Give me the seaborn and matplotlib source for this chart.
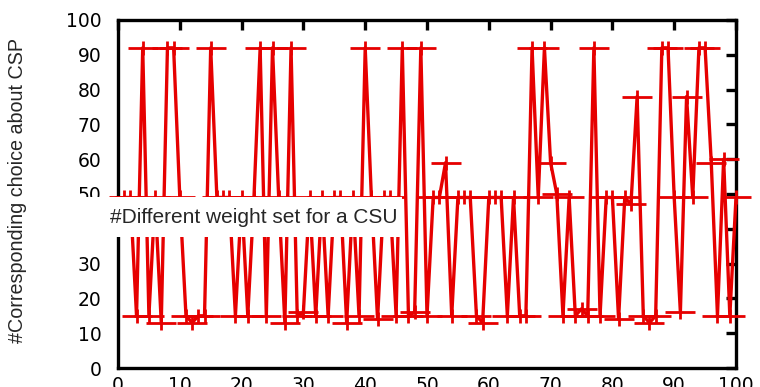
import matplotlib
matplotlib.use("Agg")
import matplotlib.pyplot as plt
from matplotlib.path import Path
from matplotlib.patches import Rectangle
import seaborn as sns
import pandas as pd

# csu index 1..100 and the chosen CSP weight for each
csu = list(range(1, 101))
choice = [
    49, 49, 15, 92, 15, 49, 13, 92, 92, 49,
    15, 13, 15, 15, 92, 49, 49, 49, 15, 49,
    15, 49, 92, 15, 92, 49, 13, 92, 15, 16,
    49, 15, 49, 15, 49, 49, 13, 49, 15, 92,
    49, 14, 49, 49, 15, 92, 15, 16, 92, 15,
    49, 49, 59, 15, 49, 49, 49, 15, 13, 49,
    49, 49, 15, 49, 15, 15, 92, 49, 92, 59,
    50, 15, 49, 15, 17, 15, 92, 15, 49, 49,
    14, 49, 47, 78, 15, 13, 15, 92, 92, 49,
    16, 78, 49, 92, 92, 59, 15, 60, 15, 49,
]
xticks = list(range(0, 101, 10))
yticks = list(range(0, 101, 10))
legend_label = "#Different weight set for a CSU"
ylabel = "#Corresponding choice about CSP"

df = pd.DataFrame({"csu": csu, "choice": choice})

# gnuplot style "+" that is wider than tall
wide_plus = Path([(-1, 0), (1, 0), (0, -0.45), (0, 0.45)],
                 [Path.MOVETO, Path.LINETO, Path.MOVETO, Path.LINETO])

sns.set_style("white")
plt.rcParams["font.family"] = ["Liberation Sans", "DejaVu Sans"]

fig = plt.figure(figsize=(7.6, 3.87), dpi=100)
ax = fig.add_axes([118 / 760, 1 - 368 / 387, 618 / 760, 348 / 387])

sns.lineplot(data=df, x="csu", y="choice", ax=ax, color="#e60000",
             linewidth=2.4, marker=wide_plus, markersize=21, markeredgewidth=2,
             markeredgecolor="#e60000", markerfacecolor="none",
             clip_on=False, zorder=3)

ax.set_xlim(0, 100)
ax.set_ylim(0, 100)
ax.set_xticks(xticks)
ax.set_yticks(yticks)
ax.set_xlabel("")
ax.set_ylabel(ylabel, fontsize=14.2)
ax.yaxis.set_label_coords(-0.147, 0.51)

for s in ax.spines.values():
    s.set_linewidth(2.4)
    s.set_color("black")
ax.tick_params(direction="in", length=7, width=2.4, top=True, right=True,
               colors="black")
for lab in ax.get_xticklabels() + ax.get_yticklabels():
    lab.set_family("DejaVu Sans")
    lab.set_fontsize(13.5)
ax.tick_params(axis="y", pad=12)
ax.tick_params(axis="x", pad=6)

# key box: white block that hides the left spine and the "40" label
ax.add_patch(Rectangle((-0.094, 0.375), 0.553, 0.115, transform=ax.transAxes,
                       facecolor="white", edgecolor="none", clip_on=False,
                       zorder=9))
ax.text(-0.013, 0.432, legend_label, transform=ax.transAxes, fontsize=15,
        ha="left", va="center", zorder=10, clip_on=False)

fig.savefig("out.png", dpi=100)
